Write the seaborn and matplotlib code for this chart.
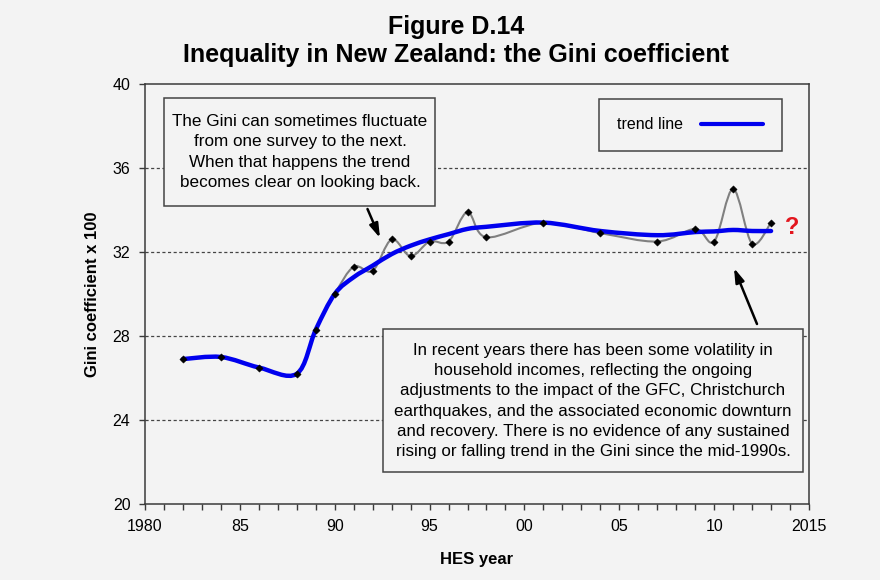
import numpy as np
import pandas as pd
import matplotlib
matplotlib.use("Agg")
import matplotlib.pyplot as plt
from matplotlib.path import Path
from matplotlib.patches import PathPatch, Rectangle
from matplotlib.lines import Line2D
import seaborn as sns

# ---------------- data ----------------
years = [1982, 1984, 1986, 1988, 1989, 1990, 1991, 1992, 1993, 1994, 1995,
         1996, 1997, 1998, 2001, 2004, 2007, 2009, 2010, 2011, 2012, 2013]
gini = [26.9, 27.0, 26.5, 26.2, 28.3, 30.0, 31.3, 31.1, 32.6, 31.8, 32.5,
        32.5, 33.9, 32.7, 33.4, 32.9, 32.5, 33.1, 32.5, 35.0, 32.4, 33.4]
trend = [26.9, 27.0, 26.5, 26.2, 28.3, 30.0, 30.8, 31.35, 31.9, 32.3, 32.6,
         32.85, 33.1, 33.2, 33.4, 33.0, 32.8, 32.95, 32.98, 33.05, 33.0, 33.0]
x_major = [1980, 1985, 1990, 1995, 2000, 2005, 2010, 2015]
x_labels = ["1980", "85", "90", "95", "00", "05", "10", "2015"]
y_ticks = [20, 24, 28, 32, 36, 40]

df = pd.DataFrame({"year": years, "gini": gini, "trend": trend})

# ---------------- style ----------------
BG = "#f3f3f3"
sns.set_theme(style="ticks", rc={
    "figure.facecolor": BG, "axes.facecolor": BG, "savefig.facecolor": BG,
    "axes.edgecolor": "#3a3a3a", "axes.linewidth": 1.1,
    "xtick.color": "#3a3a3a", "ytick.color": "#3a3a3a",
    "xtick.labelcolor": "black", "ytick.labelcolor": "black",
    "text.color": "black", "axes.labelcolor": "black",
})
plt.rcParams["font.family"] = ["Liberation Sans", "DejaVu Sans"]

W, H = 880, 580
fig = plt.figure(figsize=(W / 100, H / 100), dpi=100)
L, R, T, B = 145, 809, 84, 504
ax = fig.add_axes([L / W, 1 - B / H, (R - L) / W, (B - T) / H])
ax.set_xlim(1980, 2015)
ax.set_ylim(20, 40)


def px2x(px):
    return 1980 + (px - L) / (R - L) * 35


def px2y(py):
    return 40 - (py - T) / (B - T) * 20


def smooth_path(xs, ys, t=1 / 6):
    pts = np.column_stack([xs, ys]).astype(float)
    n = len(pts)
    verts = [pts[0]]
    codes = [Path.MOVETO]
    for i in range(n - 1):
        p0 = pts[i - 1] if i > 0 else pts[i]
        p1 = pts[i]
        p2 = pts[i + 1]
        p3 = pts[i + 2] if i + 2 < n else pts[i + 1]
        c1 = p1 + (p2 - p0) * t
        c2 = p2 - (p3 - p1) * t
        verts += [c1, c2, p2]
        codes += [Path.CURVE4] * 3
    return Path(np.array(verts), codes)


# grid
for yv in y_ticks[1:-1]:
    ax.axhline(yv, color="#444444", lw=0.9, ls=(0, (2.5, 2)), zorder=1)

# actual Gini (smoothed grey line)
ax.add_patch(PathPatch(smooth_path(df["year"], df["gini"]), fill=False,
                       edgecolor="#808080", lw=1.5, zorder=3,
                       capstyle="round", joinstyle="round"))
# trend line (smoothed blue)
ax.add_patch(PathPatch(smooth_path(df["year"], df["trend"]), fill=False,
                       edgecolor="#0000ee", lw=3.2, zorder=4,
                       capstyle="round", joinstyle="round"))
# markers
sns.scatterplot(data=df, x="year", y="gini", marker="D", s=14,
                color="black", edgecolor="black", linewidth=0.3,
                ax=ax, zorder=5, legend=False)

# axes/ticks
ax.set_xticks(x_major)
ax.set_xticklabels(x_labels, fontsize=11.5)
ax.set_xticks(np.arange(1980, 2016, 1), minor=True)
ax.set_yticks(y_ticks)
ax.set_yticklabels([str(v) for v in y_ticks], fontsize=11.5)
ax.tick_params(axis="both", which="both", direction="out", length=4.5,
               width=1.0)
ax.tick_params(axis="x", which="major", pad=6)
ax.tick_params(axis="y", which="major", pad=6)
for s in ax.spines.values():
    s.set_visible(True)
ax.set_xlabel("HES year", fontsize=12, fontweight="bold", labelpad=13)
ax.set_ylabel("Gini coefficient x 100", fontsize=12, fontweight="bold",
              labelpad=9)

# titles
fig.text(456 / W, 1 - 27 / H, "Figure D.14", ha="center", va="center",
         fontsize=18, fontweight="bold")
fig.text(456 / W, 1 - 55 / H, "Inequality in New Zealand: the Gini coefficient",
         ha="center", va="center", fontsize=18, fontweight="bold")

# legend
handle = Line2D([], [], color="#0000ee", lw=3)
leg = ax.legend([handle], ["trend line"], loc="upper left",
                bbox_to_anchor=((599 - L) / (R - L), (B - 99) / (B - T)),
                markerfirst=False, frameon=True, fancybox=False,
                fontsize=11.5, borderpad=1.15, handlelength=3.9,
                handletextpad=1.1, borderaxespad=0)
leg.get_frame().set_edgecolor("#444444")
leg.get_frame().set_linewidth(1.1)
leg.get_frame().set_facecolor(BG)
leg.get_frame().set_alpha(1)

# annotation box 1
x0, x1, y0, y1 = px2x(164), px2x(435), px2y(206), px2y(98)
ax.add_patch(Rectangle((x0, y0), x1 - x0, y1 - y0, facecolor=BG,
                       edgecolor="#444444", lw=1.1, zorder=6))
ax.text(px2x(300), px2y(152),
        "The Gini can sometimes fluctuate\nfrom one survey to the next.\n"
        "When that happens the trend\nbecomes clear on looking back.",
        ha="center", va="center", fontsize=12.3, linespacing=1.42, zorder=7)
ax.annotate("", xy=(px2x(380), px2y(238)), xytext=(px2x(367.5), px2y(209)),
            arrowprops=dict(arrowstyle="-|>,head_length=0.7,head_width=0.22",
                            color="black", lw=1.8, shrinkA=0, shrinkB=0),
            zorder=7)

# annotation box 2
x0, x1, y0, y1 = px2x(383), px2x(803), px2y(472), px2y(329)
ax.add_patch(Rectangle((x0, y0), x1 - x0, y1 - y0, facecolor=BG,
                       edgecolor="#444444", lw=1.1, zorder=6))
ax.text(px2x(593), px2y(401),
        "In recent years there has been some volatility in\n"
        "household incomes, reflecting the ongoing\n"
        "adjustments to the impact of the GFC, Christchurch\n"
        "earthquakes, and the associated economic downturn\n"
        "and recovery. There is no evidence of any sustained\n"
        "rising or falling trend in the Gini since the mid-1990s.",
        ha="center", va="center", fontsize=12.2, linespacing=1.42, zorder=7)
ax.annotate("", xy=(px2x(734), px2y(268)), xytext=(px2x(757), px2y(324)),
            arrowprops=dict(arrowstyle="-|>,head_length=0.7,head_width=0.22",
                            color="black", lw=1.8, shrinkA=0, shrinkB=0),
            zorder=7)

# question mark
ax.text(px2x(792), px2y(227), "?", ha="center", va="center", color="#e3161e",
        fontsize=17, fontweight="bold", zorder=7, clip_on=False)

fig.savefig("out.png", dpi=100, facecolor=BG)
